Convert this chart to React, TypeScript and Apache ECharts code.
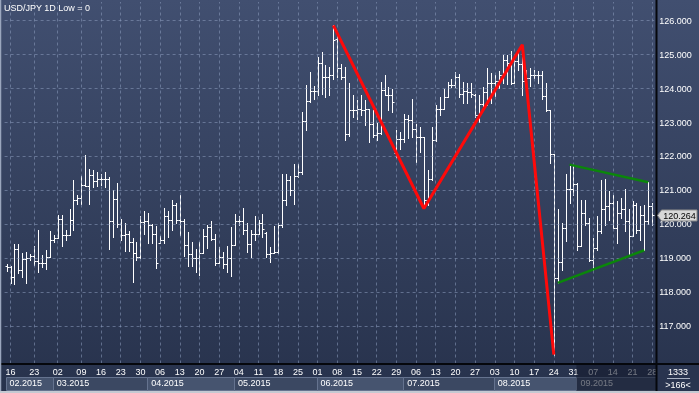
import React, { useEffect, useRef } from "react";
import * as echarts from "echarts";

// ---- session calendar (daily bars, a few Sunday sessions before US DST) ----
const sundaySessions = ["2015-02-15", "2015-02-22", "2015-03-01", "2015-03-08"];
const firstWeekday = "2015-02-16";
const lastSession = "2015-09-28";

// ---- OHLC values ----
const opens = [
  118.77, 118.75, 118.46, 119.29, 118.66, 118.97, 119.0, 119.07, 118.93, 118.87,
  118.87, 119.05, 119.54, 119.61, 120.17, 119.7, 119.7, 120.14, 120.71, 120.79,
  121.15, 121.12, 121.46, 121.27, 121.35, 121.35, 121.35, 120.09, 120.74, 120.0,
  119.7, 119.73, 119.49, 119.17, 119.03, 120.07, 120.1, 119.98, 119.71, 119.45,
  119.54, 120.24, 120.12, 120.56, 120.12, 120.09, 119.39, 119.12, 119.0, 119.02,
  119.15, 119.65, 119.91, 119.56, 118.85, 119.03, 118.83, 119.0, 119.39, 120.1,
  120.09, 119.83, 119.42, 119.73, 119.73, 120.03, 119.75, 119.13, 119.15, 119.18,
  119.97, 120.71, 121.3, 121.02, 121.44, 121.54, 123.04, 123.63, 123.92, 123.92,
  124.76, 124.34, 124.34, 124.39, 125.47, 124.6, 124.34, 122.67, 123.36, 123.36,
  123.4, 123.36, 123.41, 122.97, 122.62, 122.7, 123.95, 123.8, 123.8, 122.1,
  122.51, 122.51, 123.11, 123.07, 122.82, 122.57, 122.57, 120.71, 121.33, 122.5,
  123.41, 123.41, 123.75, 124.1, 124.1, 124.34, 123.85, 123.92, 123.9, 123.8,
  123.23, 123.55, 123.9, 124.17, 124.15, 124.21, 124.41, 124.85, 124.75, 124.17,
  124.8, 124.71, 124.21, 124.31, 124.41, 124.41, 124.41, 123.77, 123.38, 122.06,
  118.42, 118.9, 119.9, 121.03, 121.03, 121.2, 119.36, 120.34, 120.04, 118.96,
  119.31, 119.8, 120.44, 120.53, 120.63, 119.9, 120.34, 120.44, 120.09, 119.65,
  120.58, 119.85, 120.29, 120.09, 120.55,
];
const highs = [
  118.83, 118.77, 119.42, 119.42, 119.17, 119.19, 119.13, 119.36, 119.85, 119.1,
  119.26, 119.8, 119.68, 120.27, 120.27, 119.83, 120.45, 121.3, 120.86, 121.44,
  122.03, 121.64, 121.59, 121.54, 121.49, 121.54, 121.39, 121.02, 121.22, 120.17,
  120.03, 119.81, 119.59, 119.49, 120.24, 120.39, 120.34, 120.0, 119.95, 119.65,
  120.47, 120.4, 120.73, 120.63, 120.86, 120.17, 119.78, 119.49, 119.29, 119.49,
  119.88, 119.98, 120.1, 119.71, 119.34, 119.19, 119.36, 119.91, 120.3, 120.24,
  120.49, 120.04, 119.85, 120.24, 120.14, 120.3, 119.78, 119.34, 119.95, 120.03,
  121.49, 121.49, 121.44, 121.78, 121.78, 123.31, 124.1, 124.49, 124.08, 124.93,
  125.08, 124.69, 124.64, 125.86, 125.57, 124.73, 124.64, 124.15, 123.8, 123.65,
  123.8, 123.65, 123.41, 123.36, 123.0, 124.19, 124.39, 124.05, 124.0, 122.77,
  122.72, 123.26, 123.21, 123.7, 122.97, 122.87, 122.57, 121.59, 122.87, 123.51,
  123.75, 124.0, 124.19, 124.29, 124.49, 124.44, 124.19, 124.15, 124.15, 123.85,
  123.8, 124.05, 124.61, 124.46, 124.41, 124.51, 125.0, 125.0, 125.1, 124.9,
  125.1, 125.29, 124.56, 124.61, 124.56, 124.51, 124.51, 124.17, 123.38, 122.06,
  120.44, 120.04, 121.47, 121.76, 121.71, 121.22, 120.73, 120.73, 120.19, 119.6,
  120.24, 121.32, 121.34, 120.98, 120.88, 120.68, 120.78, 121.03, 120.44, 120.68,
  120.63, 120.53, 120.58, 121.24, 120.63,
];
const lows = [
  118.63, 118.27, 118.24, 118.56, 118.46, 118.29, 118.95, 118.8, 118.61, 118.75,
  118.68, 119.03, 119.49, 119.59, 119.36, 119.54, 119.68, 119.85, 120.59, 120.59,
  121.12, 120.61, 121.1, 121.12, 121.15, 121.1, 119.29, 119.63, 119.93, 119.54,
  119.22, 119.22, 118.31, 118.95, 119.0, 119.71, 119.44, 119.44, 118.73, 119.44,
  119.44, 119.63, 119.83, 120.05, 119.68, 119.07, 118.77, 118.77, 118.61, 118.51,
  119.15, 119.32, 119.54, 118.8, 118.85, 118.71, 118.61, 118.48, 119.39, 119.98,
  119.73, 119.19, 119.05, 119.54, 119.73, 119.63, 119.03, 118.9, 119.15, 119.15,
  119.93, 120.56, 120.86, 120.61, 121.4, 121.47, 122.77, 123.59, 123.7, 123.8,
  123.85, 123.75, 123.8, 124.29, 124.34, 124.29, 122.48, 122.6, 123.16, 123.11,
  123.21, 122.92, 122.43, 122.57, 122.5, 122.67, 123.8, 123.36, 123.31, 121.99,
  122.23, 122.43, 122.53, 122.57, 121.84, 122.13, 120.47, 120.56, 121.3, 122.45,
  123.21, 123.41, 123.75, 124.05, 124.05, 123.75, 123.56, 123.56, 123.75, 123.16,
  123.02, 123.41, 123.53, 123.58, 123.77, 124.02, 124.17, 124.12, 124.12, 124.17,
  124.56, 123.82, 124.12, 124.07, 124.31, 124.17, 123.68, 123.33, 121.81, 116.17,
  118.28, 118.67, 119.5, 120.63, 120.88, 119.26, 119.36, 119.99, 118.91, 118.67,
  119.26, 119.75, 119.99, 120.14, 119.9, 119.45, 120.19, 119.8, 119.11, 119.65,
  119.75, 119.55, 119.26, 120.0, 119.99,
];
const closes = [
  118.75, 118.46, 119.29, 118.66, 118.97, 119.0, 119.07, 118.93, 118.87, 118.87,
  119.05, 119.54, 119.61, 120.17, 119.7, 119.7, 120.14, 120.71, 120.79, 121.15,
  121.12, 121.46, 121.27, 121.35, 121.35, 121.35, 120.09, 120.74, 120.0, 119.7,
  119.73, 119.49, 119.17, 119.03, 120.07, 120.1, 119.98, 119.71, 118.85, 119.54,
  120.24, 120.12, 120.56, 120.12, 120.09, 119.39, 119.12, 119.0, 119.02, 119.15,
  119.65, 119.91, 119.56, 118.85, 119.03, 118.83, 119.0, 119.39, 120.1, 120.09,
  119.83, 119.42, 119.73, 119.73, 120.03, 119.88, 119.13, 119.15, 119.18, 119.97,
  120.71, 121.3, 121.02, 121.44, 121.54, 123.04, 123.63, 123.92, 123.92, 124.76,
  124.34, 124.34, 124.39, 125.42, 124.6, 124.34, 122.67, 123.36, 123.36, 123.4,
  123.36, 123.41, 122.97, 122.62, 122.7, 123.95, 123.8, 123.8, 123.61, 122.51,
  122.51, 123.11, 123.07, 122.82, 122.57, 122.57, 120.71, 121.33, 122.5, 123.41,
  123.41, 123.75, 124.1, 124.1, 124.34, 123.85, 123.92, 123.9, 123.85, 123.23,
  123.55, 123.9, 124.17, 124.15, 124.21, 124.41, 124.85, 124.75, 124.17, 124.8,
  124.71, 124.21, 124.31, 124.41, 124.41, 124.41, 123.77, 123.38, 122.06, 118.42,
  118.9, 119.9, 121.03, 121.03, 121.2, 119.36, 120.34, 120.04, 118.96, 119.31,
  119.8, 120.44, 120.53, 120.63, 119.9, 120.34, 120.44, 120.09, 119.65, 120.58,
  119.85, 120.29, 120.09, 120.55, 120.264,
];

// ---- axis ticks & labels ----
const dayTicks = [
  "2015-02-16", "2015-02-23", "2015-03-02", "2015-03-09", "2015-03-16", "2015-03-23", "2015-03-30",
  "2015-04-06", "2015-04-13", "2015-04-20", "2015-04-27", "2015-05-04", "2015-05-11", "2015-05-18",
  "2015-05-25", "2015-06-01", "2015-06-08", "2015-06-15", "2015-06-22", "2015-06-29", "2015-07-06",
  "2015-07-13", "2015-07-20", "2015-07-27", "2015-08-03", "2015-08-10", "2015-08-17", "2015-08-24",
  "2015-08-31", "2015-09-07", "2015-09-14", "2015-09-21", "2015-09-28",
];
const monthStarts = ["2015-02-15", "2015-03-01", "2015-04-01", "2015-05-01", "2015-06-01", "2015-07-01", "2015-08-03", "2015-09-01"];
const monthNames = ["02.2015", "03.2015", "04.2015", "05.2015", "06.2015", "07.2015", "08.2015", "09.2015"];
const priceTicks = [117, 118, 119, 120, 121, 122, 123, 124, 125, 126];
const yMin = 115.906;
const yMax = 126.548;

// ---- drawn objects ----
const zigzagDates = ["2015-06-05", "2015-07-08", "2015-08-12", "2015-08-24"];
const zigzagValues = [125.86, 120.47, 125.29, 116.17];
const upperDates = ["2015-08-28", "2015-09-25"];
const upperValues = [121.76, 121.24];
const lowerDates = ["2015-08-25", "2015-09-24"];
const lowerValues = [118.28, 119.24];
const lastPrice = 120.264;
const titleText = "USD/JPY 1D Low = 0";
const infoTop = "1333";
const infoBottom = ">166<";

const FONT = "'Liberation Sans', Arial, sans-serif";
const FS = 9;

function buildSessions(): string[] {
  const out: string[] = [...sundaySessions];
  const d = new Date(firstWeekday + "T00:00:00Z");
  const end = new Date(lastSession + "T00:00:00Z");
  while (d.getTime() <= end.getTime()) {
    const wd = d.getUTCDay();
    if (wd !== 0 && wd !== 6) out.push(d.toISOString().slice(0, 10));
    d.setUTCDate(d.getUTCDate() + 1);
  }
  return out.sort();
}

export default function App() {
  const ref = useRef<HTMLDivElement>(null);
  useEffect(() => {
    const el = ref.current!;
    const chart = echarts.init(el, undefined, { renderer: "svg", width: 699, height: 393 });
    const sessions = buildSessions();
    const ohlc = sessions.map((d, i) => [i, opens[i], highs[i], lows[i], closes[i]]);
    const gridColor = "rgba(140,156,190,0.55)";

    chart.setOption({
      animation: false,
      grid: { left: 4.6, right: 44.8, top: 2, bottom: 29.5, outerBoundsMode: "none" } as any,
      xAxis: [
        {
          type: "category",
          data: sessions,
          boundaryGap: true,
          axisLine: { show: false },
          axisTick: { show: false },
          splitLine: { show: false },
          axisLabel: {
            interval: (_i: number, v: string) => dayTicks.includes(v),
            formatter: (v: string) => v.slice(8, 10),
            color: "#ffffff",
            fontSize: FS,
            fontFamily: FONT,
            margin: 4,
          },
        },
        {
          type: "category",
          data: sessions,
          position: "bottom",
          boundaryGap: true,
          axisLine: { show: false },
          axisTick: { show: false },
          splitLine: { show: false },
          axisLabel: {
            interval: (_i: number, v: string) => monthStarts.includes(v),
            formatter: (v: string) => monthNames[monthStarts.indexOf(v)],
            align: "left",
            padding: [0, 0, 0, 3],
            color: "#ffffff",
            fontSize: FS,
            fontFamily: FONT,
            margin: 15,
          },
        },
      ],
      yAxis: {
        type: "value",
        position: "right",
        min: yMin,
        max: yMax,
        axisLine: { show: false },
        axisTick: { show: false },
        splitLine: { show: false },
        axisLabel: {
          customValues: priceTicks,
          formatter: (v: number) => v.toFixed(3),
          color: "#ffffff",
          fontSize: FS,
          fontFamily: FONT,
          margin: 5,
        },
      } as any,
      series: [
        {
          type: "line",
          data: [],
          z: 1,
          silent: true,
          markLine: {
            silent: true,
            symbol: ["none", "none"],
            label: { show: false },
            lineStyle: { color: gridColor, width: 1, type: [3, 3] },
            data: [
              ...priceTicks.map((v) => ({ yAxis: v })),
              ...dayTicks.map((d) => ({ xAxis: d })),
            ],
          },
        },
        {
          type: "custom",
          z: 3,
          data: ohlc,
          encode: { x: 0, y: [1, 2, 3, 4] },
          renderItem: (_p: any, api: any) => {
            const i = api.value(0);
            const o = api.coord([i, api.value(1)]);
            const h = api.coord([i, api.value(2)]);
            const l = api.coord([i, api.value(3)]);
            const c = api.coord([i, api.value(4)]);
            const x = Math.round(o[0]) + 0.5;
            const st = { stroke: "#ffffff", lineWidth: 1 };
            const oy = Math.round(o[1]) + 0.5;
            const cy = Math.round(c[1]) + 0.5;
            return {
              type: "group",
              children: [
                { type: "line", shape: { x1: x, y1: Math.round(h[1]), x2: x, y2: Math.round(l[1]) + 1 }, style: st },
                { type: "line", shape: { x1: x - 2, y1: oy, x2: x, y2: oy }, style: st },
                { type: "line", shape: { x1: x, y1: cy, x2: x + 2, y2: cy }, style: st },
              ],
            };
          },
        },
        {
          type: "line",
          z: 5,
          symbol: "none",
          lineStyle: { color: "#ff0a0a", width: 3 },
          data: zigzagDates.map((d, i) => [d, zigzagValues[i]]),
        },
        {
          type: "line",
          z: 5,
          symbol: "none",
          lineStyle: { color: "#0b860b", width: 2.5 },
          data: upperDates.map((d, i) => [d, upperValues[i]]),
        },
        {
          type: "line",
          z: 5,
          symbol: "none",
          lineStyle: { color: "#0b860b", width: 2.5 },
          data: lowerDates.map((d, i) => [d, lowerValues[i]]),
        },
      ],
    });

    const xPix = (d: string) => chart.convertToPixel({ xAxisIndex: 0 }, d) as unknown as number;
    const yPix = (v: number) => chart.convertToPixel({ yAxisIndex: 0 }, v) as unknown as number;
    const sepX = 656.5;
    const sepY = 364;
    const font = `${FS}px ${FONT}`;

    const graphics: any[] = [];
    graphics.push({
      type: "rect",
      z: -10,
      silent: true,
      shape: { x: 0, y: 0, width: 699, height: 393 },
      style: {
        fill: new echarts.graphic.LinearGradient(0, 0, 0, 1, [
          { offset: 0, color: "#414f70" },
          { offset: 1, color: "#27324c" },
        ]),
      },
    });
    // month boxes
    monthStarts.forEach((m, k) => {
      const left = xPix(m) - 1;
      const right = k + 1 < monthStarts.length ? xPix(monthStarts[k + 1]) - 1 : sepX;
      graphics.push({
        type: "rect",
        z: -5,
        silent: true,
        shape: { x: Math.round(left) + 0.5, y: 377.5, width: Math.round(right - left), height: 13 },
        style: { fill: k % 2 === 0 ? "#46546f" : "#3b4862", stroke: "#65738f", lineWidth: 1 },
      });
    });
    // dim overlay over September
    const sepStart = xPix(monthStarts[monthStarts.length - 1]) - 1;
    graphics.push({
      type: "rect",
      z: 10,
      silent: true,
      shape: { x: sepStart, y: sepY + 1, width: sepX - sepStart, height: 391 - sepY - 1 },
      style: { fill: "rgba(20,27,45,0.6)" },
    });
    // corner box
    graphics.push({
      type: "rect",
      z: 12,
      silent: true,
      shape: { x: sepX, y: sepY, width: 699 - sepX, height: 391 - sepY },
      style: { fill: "#29344f" },
    });
    graphics.push({
      type: "text",
      z: 13,
      silent: true,
      style: { text: infoTop, x: 678, y: 371.5, fill: "#ffffff", font, align: "center", verticalAlign: "middle" },
    });
    graphics.push({
      type: "line",
      z: 13,
      silent: true,
      shape: { x1: 667, y1: 378.5, x2: 690, y2: 378.5 },
      style: { stroke: "#aab3c4", lineWidth: 1 },
    });
    graphics.push({
      type: "text",
      z: 13,
      silent: true,
      style: { text: infoBottom, x: 678, y: 384.5, fill: "#ffffff", font, align: "center", verticalAlign: "middle" },
    });
    // separators
    graphics.push({
      type: "line",
      z: 15,
      silent: true,
      shape: { x1: sepX, y1: 0, x2: sepX, y2: 391 },
      style: { stroke: "#05070c", lineWidth: 2 },
    });
    graphics.push({
      type: "line",
      z: 15,
      silent: true,
      shape: { x1: 0, y1: sepY, x2: 699, y2: sepY },
      style: { stroke: "#05070c", lineWidth: 2 },
    });
    // outer frame
    graphics.push({
      type: "line",
      z: 16,
      silent: true,
      shape: { x1: 0.5, y1: 0, x2: 0.5, y2: 393 },
      style: { stroke: "#9aa6bd", lineWidth: 1.5 },
    });
    graphics.push({
      type: "line",
      z: 16,
      silent: true,
      shape: { x1: 0, y1: 392, x2: 699, y2: 392 },
      style: { stroke: "#c4c9d2", lineWidth: 2 },
    });
    // last price tag
    const py = yPix(lastPrice);
    graphics.push({
      type: "polygon",
      z: 20,
      silent: true,
      shape: { points: [[657.5, py], [661.5, py - 5.5], [697, py - 5.5], [697, py + 5.5], [661.5, py + 5.5]] },
      style: { fill: "#d8d8d8", stroke: "#8a8a8a", lineWidth: 1 },
    });
    graphics.push({
      type: "text",
      z: 21,
      silent: true,
      style: { text: lastPrice.toFixed(3), x: 679.5, y: py + 0.5, fill: "#000000", font, align: "center", verticalAlign: "middle" },
    });
    // title
    graphics.push({
      type: "text",
      z: 20,
      silent: true,
      style: { text: titleText, x: 4, y: 3, fill: "#ffffff", font, align: "left", verticalAlign: "top" },
    });

    chart.setOption({ graphic: graphics });
    return () => chart.dispose();
  }, []);
  return <div ref={ref} style={{ position: "fixed", left: 0, top: 0, width: 699, height: 393 }} />;
}
